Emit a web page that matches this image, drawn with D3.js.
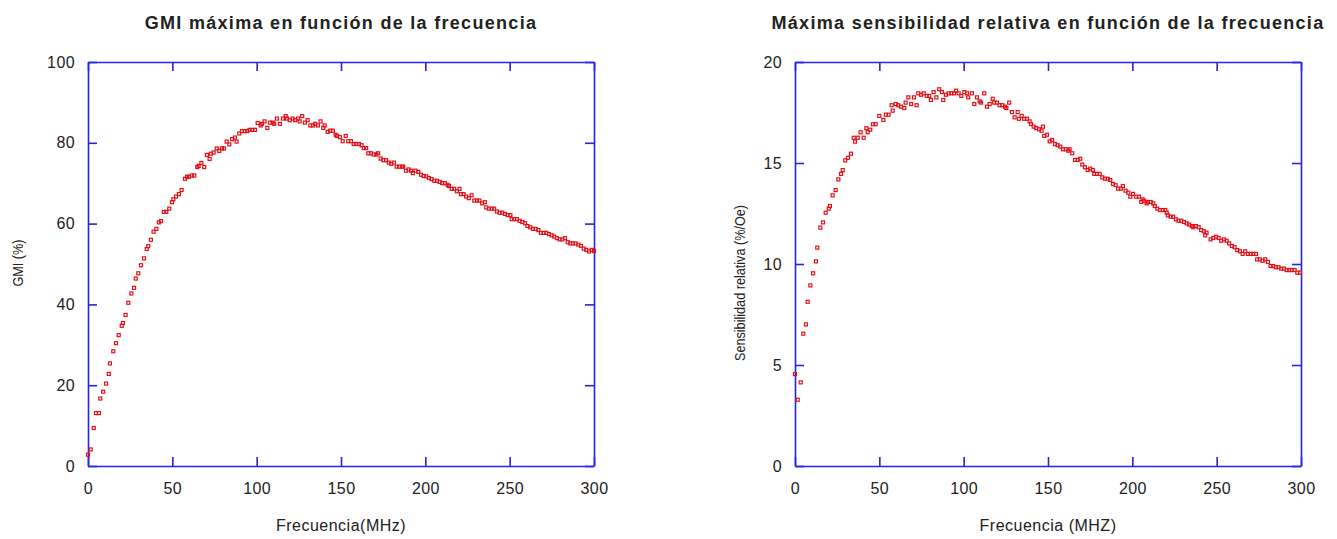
<!DOCTYPE html>
<html>
<head>
<meta charset="utf-8">
<script src="https://cdn.jsdelivr.net/npm/d3@7"></script>
<style>
  body { margin: 0; background: #fff; }
  svg { display: block; }
  text { font-family: "Liberation Sans", Arial, sans-serif; fill: #222; }
</style>
</head>
<body>
<svg id="chart" width="1337" height="539"></svg>
<script>
// GMI maxima vs frecuencia
const gmiFreq = [0, 1.6, 3.4, 4.7, 6.5, 7.3, 9.0, 10.7, 12.3, 13.0, 15.0, 16.6, 18.2, 20.0, 20.7, 22.3, 23.9, 25.7, 27.3, 28.3,
  29.8, 31.4, 33.2, 34.8, 35.7, 37.3, 38.9, 40.5, 42.0, 43.3, 44.9, 46.4, 48.2, 49.8, 50.6, 52.2, 53.9, 55.5, 57.5, 58.7,
  59.9, 61.5, 63.0, 64.8, 65.6, 67.2, 68.9, 70.5, 72.1, 72.9, 74.5, 76.3, 77.8, 79.4, 80.6, 82.2, 83.8, 85.4, 87.1, 88.1,
  89.7, 91.3, 92.9, 94.4, 95.8, 97.4, 99.0, 100.6, 102.4, 103.1, 104.7, 106.3, 107.9, 109.5, 110.4, 112.0, 113.8, 115.6, 117.2, 118.0,
  119.6, 121.3, 122.9, 124.5, 125.5, 127.0, 128.6, 130.2, 131.8, 133.4, 134.7, 136.3, 137.9, 139.5, 140.3, 142.1, 143.6, 145.2, 146.8, 147.6,
  149.4, 151.0, 152.8, 154.3, 155.9, 157.5, 159.1, 160.6, 162.2, 163.5, 164.9, 166.2, 167.8, 169.4, 171.0, 172.0, 173.5, 175.1, 176.7, 178.3,
  179.8, 181.4, 183.0, 184.5, 186.1, 186.9, 188.5, 190.1, 191.6, 192.6, 194.2, 195.8, 197.4, 199.0, 200.5, 202.1, 203.7, 205.3, 206.9, 208.5,
  210.0, 211.6, 213.2, 214.0, 215.6, 217.1, 218.7, 220.3, 221.1, 222.7, 224.2, 225.8, 227.4, 229.0, 230.6, 232.1, 233.7, 235.3, 236.1, 237.7,
  239.3, 240.8, 242.4, 244.0, 245.6, 247.2, 248.8, 250.4, 251.2, 252.7, 254.3, 255.9, 257.5, 259.1, 260.6, 262.2, 263.8, 265.4, 267.0, 268.5,
  270.1, 271.7, 273.3, 274.9, 276.4, 278.0, 279.6, 281.2, 282.8, 284.4, 285.9, 287.5, 289.1, 290.7, 292.3, 293.9, 295.4, 297.0, 298.6, 300];
const gmiVal = [2.8, 4.1, 9.4, 13.1, 13.1, 16.7, 18.4, 20.4, 22.8, 25.4, 28.4, 30.4, 32.4, 34.7, 35.4, 37.4, 40.4, 42.7, 44.1, 46.4,
  47.7, 49.7, 51.4, 53.7, 54.4, 56.0, 58.0, 58.7, 60.3, 60.6, 62.9, 62.9, 63.7, 65.3, 66.0, 66.7, 67.3, 68.3, 71.1, 71.6,
  71.6, 71.9, 71.9, 74.0, 74.3, 75.0, 74.0, 77.0, 76.0, 77.3, 77.6, 78.6, 78.0, 78.6, 78.6, 80.3, 79.6, 80.9, 81.3, 80.3,
  82.3, 82.9, 82.9, 82.9, 83.2, 83.2, 83.2, 84.9, 84.3, 84.7, 85.3, 83.7, 85.0, 85.0, 84.7, 86.0, 84.7, 86.0, 86.6, 86.0,
  85.6, 86.0, 85.6, 86.0, 85.3, 86.6, 85.0, 85.6, 84.3, 84.3, 84.7, 84.3, 85.3, 83.7, 84.3, 82.7, 83.0, 83.0, 82.0, 81.7,
  81.4, 80.4, 81.7, 80.4, 80.4, 79.7, 79.7, 79.7, 79.4, 78.7, 78.7, 77.4, 77.4, 77.1, 77.1, 77.4, 76.1, 75.7, 75.7, 75.1,
  74.8, 75.1, 74.1, 74.1, 74.1, 74.1, 73.1, 73.4, 73.1, 72.5, 73.1, 72.8, 72.1, 71.8, 71.7, 71.3, 71.0, 70.6, 70.6, 70.3,
  70.0, 70.0, 69.6, 69.3, 68.6, 68.6, 68.0, 68.6, 67.3, 67.3, 66.7, 66.3, 67.0, 65.7, 65.7, 65.7, 65.0, 65.3, 64.0, 63.7,
  63.7, 63.7, 63.0, 62.7, 62.7, 62.4, 62.1, 62.1, 61.1, 61.1, 61.1, 60.7, 60.4, 60.1, 59.4, 59.1, 58.7, 58.7, 58.4, 57.7,
  57.7, 57.7, 57.4, 57.1, 56.8, 56.4, 56.1, 56.1, 56.4, 55.4, 55.1, 55.1, 55.1, 54.8, 54.5, 53.8, 53.5, 53.1, 53.5, 53.2];

// Maxima sensibilidad relativa vs frecuencia
const sensFreq = [0, 1.6, 3.4, 4.9, 6.5, 7.5, 9.1, 10.7, 12.4, 13.2, 15.0, 16.6, 18.2, 20.0, 20.7, 22.3, 24.1, 25.7, 27.3, 28.3,
  29.8, 31.4, 33.2, 34.8, 35.6, 37.2, 38.9, 40.7, 42.3, 43.1, 44.6, 46.2, 47.8, 50.0, 52.4, 53.9, 55.5, 57.3, 57.9, 59.7,
  61.2, 62.8, 64.8, 65.6, 67.2, 68.9, 70.5, 72.1, 73.1, 74.7, 76.3, 78.1, 79.6, 80.6, 82.2, 83.8, 85.5, 87.1, 87.9, 89.5,
  91.1, 92.7, 94.3, 95.5, 97.0, 98.6, 100.4, 102.0, 102.7, 104.9, 106.3, 107.9, 109.5, 110.3, 112.2, 113.8, 115.4, 117.2, 118.1, 119.7,
  121.3, 122.9, 124.5, 125.3, 127.0, 128.6, 130.2, 132.0, 132.8, 134.4, 135.9, 137.5, 139.1, 139.9, 141.5, 143.0, 144.6, 146.2, 147.0, 147.8,
  149.4, 151.0, 152.5, 154.1, 155.7, 157.3, 158.9, 160.5, 162.0, 162.8, 164.4, 166.0, 167.6, 169.1, 170.3, 171.9, 173.5, 175.0, 176.6, 177.4,
  179.0, 180.6, 182.2, 183.8, 185.4, 186.9, 188.5, 190.1, 191.6, 193.2, 194.4, 196.0, 197.6, 198.8, 200.4, 202.3, 203.9, 205.3, 206.1, 206.9,
  208.5, 209.3, 210.9, 212.4, 213.3, 214.8, 216.4, 218.0, 219.6, 220.4, 221.1, 222.7, 224.2, 225.8, 227.4, 229.0, 230.6, 232.2, 233.7, 235.3,
  236.1, 237.7, 239.3, 240.8, 242.4, 243.2, 244.0, 246.4, 248.0, 249.6, 251.2, 252.7, 254.3, 255.9, 257.4, 259.0, 260.6, 262.2, 263.8, 265.4,
  266.9, 268.5, 270.1, 271.7, 273.3, 274.0, 275.6, 277.2, 278.8, 280.4, 282.0, 283.5, 285.1, 286.7, 288.3, 289.9, 291.5, 293.0, 294.6, 296.2,
  297.8, 299.4];
const sensVal = [4.55, 3.28, 4.14, 6.55, 7.01, 8.13, 8.94, 9.54, 10.13, 10.81, 11.8, 12.06, 12.54, 12.74, 12.87, 13.4, 13.66, 14.19, 14.46, 14.65,
  15.13, 15.26, 15.46, 16.25, 16.06, 16.25, 16.52, 16.25, 16.72, 16.52, 16.65, 16.92, 16.92, 17.33, 17.13, 17.39, 17.39, 17.86, 17.59, 17.92,
  17.86, 17.79, 17.72, 17.99, 18.25, 17.92, 18.25, 17.86, 18.45, 18.38, 18.45, 18.32, 18.32, 18.12, 18.51, 18.25, 18.65, 18.51, 18.12, 18.38,
  18.45, 18.45, 18.45, 18.58, 18.45, 18.32, 18.51, 18.45, 18.25, 18.45, 17.92, 18.25, 18.05, 17.99, 18.45, 17.79, 17.92, 18.18, 17.99, 17.99,
  17.86, 17.86, 17.79, 17.72, 17.99, 17.52, 17.26, 17.52, 17.19, 17.33, 17.19, 17.19, 17.06, 16.93, 16.8, 16.73, 16.67, 16.6, 16.8, 16.34,
  16.4, 16.07, 16.14, 15.94, 15.88, 15.81, 15.68, 15.68, 15.61, 15.68, 15.48, 15.15, 15.15, 15.21, 14.92, 14.79, 14.65, 14.72, 14.65, 14.46,
  14.46, 14.46, 14.29, 14.22, 14.22, 14.16, 13.96, 13.9, 13.73, 13.73, 13.86, 13.63, 13.53, 13.33, 13.47, 13.33, 13.33, 13.07, 13.2, 13.13,
  13.0, 13.07, 13.07, 13.0, 12.87, 12.74, 12.67, 12.67, 12.67, 12.54, 12.41, 12.34, 12.34, 12.21, 12.14, 12.14, 12.08, 12.01, 11.95, 11.88,
  11.82, 11.88, 11.82, 11.68, 11.62, 11.42, 11.55, 11.22, 11.29, 11.35, 11.29, 11.15, 11.22, 11.15, 11.02, 10.89, 10.83, 10.69, 10.63, 10.5,
  10.63, 10.5, 10.5, 10.5, 10.5, 10.23, 10.23, 10.16, 10.23, 10.1, 9.9, 9.9, 9.84, 9.84, 9.77, 9.77, 9.7, 9.7, 9.7, 9.7,
  9.57, 9.57];

const xTicks = [0, 50, 100, 150, 200, 250, 300];
const gmiTicks = [0, 20, 40, 60, 80, 100];
const sensTicks = [0, 5, 10, 15, 20];

const svg = d3.select('#chart');
const axisColor = '#2424ea';
const markColor = '#e3121a';

function drawPanel (cfg) {
  const x = d3.scaleLinear().domain([0, 300]).range([cfg.left, cfg.right]);
  const y = d3.scaleLinear().domain(cfg.yDomain).range([cfg.bottom, cfg.top]);
  const g = svg.append('g');
  const tick = 9;

  // axes on all four sides, ticks pointing inward
  g.append('g')
    .attr('transform', 'translate(0,' + cfg.bottom + ')')
    .call(d3.axisBottom(x).tickValues(xTicks).tickSizeInner(-tick).tickSizeOuter(0).tickPadding(17));
  g.append('g')
    .attr('transform', 'translate(0,' + cfg.top + ')')
    .call(d3.axisTop(x).tickValues(xTicks).tickSizeInner(-tick).tickSizeOuter(0).tickFormat(''));
  g.append('g')
    .attr('transform', 'translate(' + cfg.left + ',0)')
    .call(d3.axisLeft(y).tickValues(cfg.yTicks).tickSizeInner(-tick).tickSizeOuter(0).tickPadding(cfg.yPad));
  g.append('g')
    .attr('transform', 'translate(' + cfg.right + ',0)')
    .call(d3.axisRight(y).tickValues(cfg.yTicks).tickSizeInner(-tick).tickSizeOuter(0).tickFormat(''));

  g.selectAll('.domain, .tick line').attr('stroke', axisColor).attr('stroke-width', 1.6);
  g.selectAll('.tick text')
    .style('font-family', '"Liberation Sans", Arial, sans-serif')
    .style('font-size', '16px')
    .style('letter-spacing', '0.4px')
    .attr('fill', '#222');

  // data markers: small open squares
  const pts = cfg.freq.map((f, i) => [f, cfg.vals[i]]);
  g.append('g').selectAll('rect')
    .data(pts)
    .enter().append('rect')
    .attr('x', d => x(d[0]) - 1.5)
    .attr('y', d => y(d[1]) - 1.5)
    .attr('width', 3)
    .attr('height', 3)
    .attr('fill', 'none')
    .attr('stroke', markColor)
    .attr('stroke-width', 1.2);

  const cx = (cfg.left + cfg.right) / 2;
  g.append('text')
    .attr('x', cx)
    .attr('y', 29)
    .attr('text-anchor', 'middle')
    .style('font-size', '18px')
    .style('font-weight', 'bold')
    .style('letter-spacing', '1.3px')
    .text(cfg.title);

  g.append('text')
    .attr('x', cx)
    .attr('y', 531)
    .attr('text-anchor', 'middle')
    .style('font-size', '16px')
    .style('letter-spacing', '0.5px')
    .text(cfg.xLabel);

  // rotated label, squeezed a little like the narrow original lettering
  g.append('text')
    .attr('transform', 'translate(' + cfg.yLabelX + ',' + cfg.yLabelY + ') rotate(-90)')
    .attr('text-anchor', 'middle')
    .attr('textLength', cfg.yLabelLen)
    .attr('lengthAdjust', 'spacingAndGlyphs')
    .style('font-size', '15px')
    .text(cfg.yLabel);
}

drawPanel({
  left: 88, right: 594, top: 62, bottom: 466,
  yDomain: [0, 100], yTicks: gmiTicks, yPad: 13,
  freq: gmiFreq, vals: gmiVal,
  title: 'GMI máxima en función de la frecuencia',
  xLabel: 'Frecuencia(MHz)',
  yLabel: 'GMI (%)', yLabelX: 23, yLabelY: 263, yLabelLen: 47
});

drawPanel({
  left: 795, right: 1301, top: 62, bottom: 466,
  yDomain: [0, 20], yTicks: sensTicks, yPad: 13,
  freq: sensFreq, vals: sensVal,
  title: 'Máxima sensibilidad relativa en función de la frecuencia',
  xLabel: 'Frecuencia (MHZ)',
  yLabel: 'Sensibilidad relativa (%/Oe)', yLabelX: 745, yLabelY: 283, yLabelLen: 156
});
</script>
</body>
</html>
